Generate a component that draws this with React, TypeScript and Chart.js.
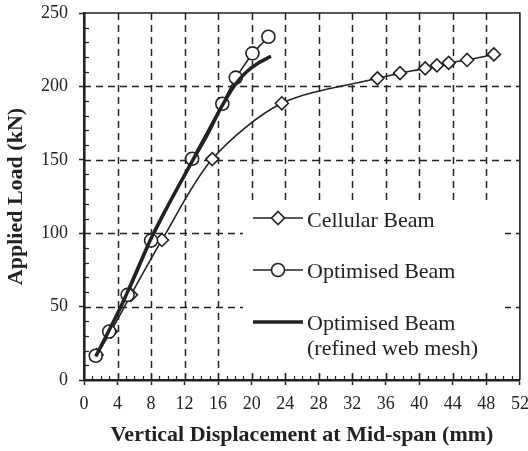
import React, { useEffect, useRef } from "react";
import { Chart, registerables } from "chart.js";

Chart.register(...registerables);

const cellularX = [1.5, 3.2, 5.6, 9.3, 15.3, 23.6, 35.0, 37.7, 40.7, 42.1, 43.5, 45.7, 48.9];
const cellularY = [17, 33, 58, 95.4, 150.5, 188.5, 205.5, 209, 212.3, 214.3, 216, 218, 221.8];
const optimisedX = [1.4, 3.0, 5.2, 8.0, 12.9, 16.5, 18.1, 20.1, 22.0];
const optimisedY = [16.5, 33, 58, 95, 150.7, 188.2, 206, 222.5, 233.8];
const refinedX = [1.4, 4.4, 8.3, 13.0, 14.6, 16.4, 18.0, 19.4, 20.8, 22.3];
const refinedY = [16, 50, 100, 150, 166, 186, 201, 210, 216, 220.5];

const legendLabels = ["Cellular Beam", "Optimised Beam", "Optimised Beam", "(refined web mesh)"];
const xTitle = "Vertical Displacement at Mid-span (mm)";
const yTitle = "Applied Load (kN)";

const INK = "#222";
const SERIF = "'Liberation Serif', 'Times New Roman', serif";

const toPts = (xs: number[], ys: number[]) => xs.map((x, i) => ({ x, y: ys[i] }));

const framePlugin = {
  id: "frame",
  beforeDatasetsDraw(chart: any) {
    const { ctx, chartArea: a, scales } = chart;
    const xs = scales.x;
    const ys = scales.y;
    ctx.save();
    ctx.strokeStyle = INK;
    ctx.lineWidth = 1.5;
    ctx.setLineDash([7, 5]);
    for (let v = 4; v < 52; v += 4) {
      const px = Math.round(xs.getPixelForValue(v)) + 0.5;
      ctx.beginPath();
      ctx.moveTo(px, a.bottom);
      ctx.lineTo(px, a.top);
      ctx.stroke();
    }
    for (let v = 50; v < 250; v += 50) {
      const py = Math.round(ys.getPixelForValue(v)) + 0.5;
      ctx.beginPath();
      ctx.moveTo(a.left, py);
      ctx.lineTo(a.right, py);
      ctx.stroke();
    }
    ctx.setLineDash([]);
    // legend background
    ctx.fillStyle = "#fff";
    ctx.fillRect(a.left + 159, a.top + 190, 262, 169);
    ctx.restore();
  },
  afterDatasetsDraw(chart: any) {
    const { ctx, chartArea: a, scales } = chart;
    const xs = scales.x;
    const ys = scales.y;
    ctx.save();
    ctx.strokeStyle = INK;
    // minor ticks
    ctx.lineWidth = 1.2;
    for (let v = 1; v < 52; v++) {
      if (v % 4 === 0) continue;
      const px = Math.round(xs.getPixelForValue(v)) + 0.5;
      ctx.beginPath();
      ctx.moveTo(px, a.bottom);
      ctx.lineTo(px, a.bottom - 4);
      ctx.stroke();
    }
    for (let v = 4; v < 52; v += 4) {
      const px = Math.round(xs.getPixelForValue(v)) + 0.5;
      ctx.beginPath();
      ctx.moveTo(px, a.bottom);
      ctx.lineTo(px, a.bottom - 7);
      ctx.stroke();
    }
    for (let v = 10; v < 250; v += 10) {
      if (v % 50 === 0) continue;
      const py = Math.round(ys.getPixelForValue(v)) + 0.5;
      ctx.beginPath();
      ctx.moveTo(a.left, py);
      ctx.lineTo(a.left + 5, py);
      ctx.stroke();
    }
    // frame top/right
    ctx.lineWidth = 1.6;
    ctx.beginPath();
    ctx.moveTo(a.left, a.top);
    ctx.lineTo(a.right, a.top);
    ctx.lineTo(a.right, a.bottom);
    ctx.stroke();

    // legend
    const lx0 = a.left + 169;
    const lx1 = a.left + 219;
    const mx = (lx0 + lx1) / 2;
    const tx = a.left + 223;
    const rows = [a.top + 205, a.top + 257, a.top + 309];
    ctx.font = "22px " + SERIF;
    ctx.fillStyle = INK;
    ctx.textBaseline = "alphabetic";
    ctx.textAlign = "left";
    const r = 6.5;
    // cellular
    ctx.lineWidth = 1.6;
    ctx.beginPath();
    ctx.moveTo(lx0, rows[0]);
    ctx.lineTo(lx1, rows[0]);
    ctx.stroke();
    ctx.beginPath();
    ctx.moveTo(mx - r, rows[0]);
    ctx.lineTo(mx, rows[0] - r);
    ctx.lineTo(mx + r, rows[0]);
    ctx.lineTo(mx, rows[0] + r);
    ctx.closePath();
    ctx.fillStyle = "#fff";
    ctx.fill();
    ctx.stroke();
    ctx.fillStyle = INK;
    ctx.fillText(legendLabels[0], tx, rows[0] + 9);
    // optimised
    ctx.beginPath();
    ctx.moveTo(lx0, rows[1]);
    ctx.lineTo(lx1, rows[1]);
    ctx.stroke();
    ctx.beginPath();
    ctx.arc(mx, rows[1], r, 0, Math.PI * 2);
    ctx.fillStyle = "#fff";
    ctx.fill();
    ctx.stroke();
    ctx.fillStyle = INK;
    ctx.fillText(legendLabels[1], tx, rows[1] + 8);
    // refined
    ctx.lineWidth = 3.5;
    ctx.beginPath();
    ctx.moveTo(lx0, rows[2]);
    ctx.lineTo(lx1, rows[2]);
    ctx.stroke();
    ctx.fillText(legendLabels[2], tx, rows[2] + 8);
    ctx.fillText(legendLabels[3], tx, rows[2] + 33);
    ctx.restore();
  },
};

export default function App() {
  const ref = useRef<HTMLCanvasElement>(null);
  useEffect(() => {
    if (!ref.current) return;
    const chart = new Chart(ref.current, {
      type: "scatter",
      data: {
        datasets: [
          {
            label: "Optimised Beam (refined web mesh)",
            data: toPts(refinedX, refinedY),
            showLine: true,
            borderColor: INK,
            borderWidth: 3.5,
            pointRadius: 0,
            tension: 0.3,
            order: 0,
          },
          {
            label: "Optimised Beam",
            data: toPts(optimisedX, optimisedY),
            showLine: true,
            borderColor: INK,
            borderWidth: 1.6,
            pointStyle: "circle",
            pointRadius: 6.5,
            pointBorderWidth: 1.6,
            pointBackgroundColor: "#fff",
            pointBorderColor: INK,
            tension: 0,
            order: 1,
          },
          {
            label: "Cellular Beam",
            data: toPts(cellularX, cellularY),
            showLine: true,
            borderColor: INK,
            borderWidth: 1.6,
            pointStyle: "rectRot",
            pointRadius: 6.5,
            pointBorderWidth: 1.6,
            pointBackgroundColor: "#fff",
            pointBorderColor: INK,
            tension: 0.3,
            order: 2,
          },
        ],
      },
      options: {
        responsive: false,
        animation: false,
        devicePixelRatio: 1,
        layout: { padding: { top: 13, right: 8, left: 0, bottom: 0 } },
        plugins: { legend: { display: false }, tooltip: { enabled: false } },
        scales: {
          x: {
            type: "linear",
            min: 0,
            max: 52,
            afterFit: (s: any) => {
              s.height = 71;
              s.paddingLeft = 0;
              s.paddingRight = 0;
            },
            ticks: {
              stepSize: 4,
              color: INK,
              padding: 8,
              maxRotation: 0,
              font: { family: SERIF, size: 18 },
            },
            grid: {
              display: true,
              drawOnChartArea: false,
              drawTicks: true,
              tickLength: 5,
              tickColor: INK,
              tickWidth: 1.5,
            },
            border: { display: true, color: INK, width: 2.6 },
            title: {
              display: true,
              text: xTitle,
              color: INK,
              font: { family: SERIF, size: 22, weight: "bold" },
              padding: { top: 0, bottom: 2 },
            },
          },
          y: {
            type: "linear",
            min: 0,
            max: 250,
            afterFit: (s: any) => {
              s.width = 84;
              s.paddingTop = 0;
              s.paddingBottom = 0;
            },
            ticks: {
              stepSize: 50,
              color: INK,
              padding: 11,
              font: { family: SERIF, size: 18 },
            },
            grid: {
              display: true,
              drawOnChartArea: false,
              drawTicks: true,
              tickLength: 5,
              tickColor: INK,
              tickWidth: 1.5,
            },
            border: { display: true, color: INK, width: 2.6 },
            title: {
              display: true,
              text: yTitle,
              color: INK,
              font: { family: SERIF, size: 22, weight: "bold" },
              padding: { top: 3, bottom: 0 },
            },
          },
        },
      },
      plugins: [framePlugin],
    } as any);
    return () => chart.destroy();
  }, []);
  return (
    <div style={{ position: "fixed", left: 0, top: 0, width: 528, height: 451, background: "#fff" }}>
      <canvas ref={ref} width={528} height={451} style={{ display: "block" }} />
    </div>
  );
}
